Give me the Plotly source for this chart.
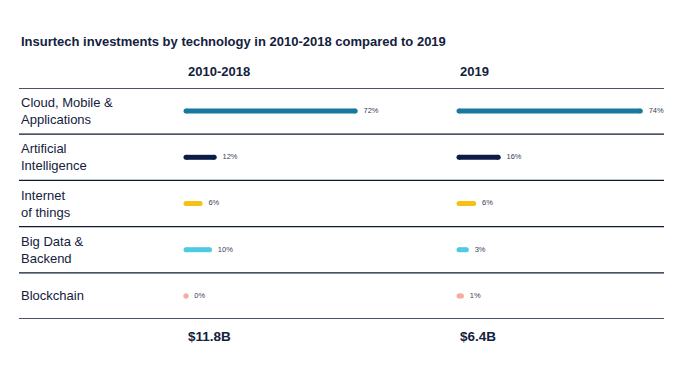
import plotly.graph_objects as go

W, H = 689, 377
OFF = 8  # default page body margin

categories = ["Cloud, Mobile &<br>Applications", "Artificial<br>Intelligence",
              "Internet<br>of things", "Big Data &<br>Backend", "Blockchain"]
values_2010_2018 = [72, 12, 6, 10, 0]
values_2019 = [74, 16, 6, 3, 1]
colors = ["#17799f", "#0c1b47", "#f5c115", "#4ecbe0", "#f3ada0"]
period_labels = ["2010-2018", "2019"]
totals = ["$11.8B", "$6.4B"]
title = "Insurtech investments by technology in 2010-2018 compared to 2019"

FONT = "Liberation Sans, Arial, sans-serif"
NAVY = "#14213d"

def px(x):
    return (x - OFF) / W

def py(y):
    return 1 - (y - OFF) / H

fig = go.Figure()

rows = list(range(len(categories)))

for panel, vals in enumerate([values_2010_2018, values_2019]):
    xa = "x" if panel == 0 else "x2"
    for i, (v, c) in enumerate(zip(vals, colors)):
        fig.add_trace(go.Scatter(
            x=[0, v], y=[i, i], mode="lines+markers",
            line=dict(color=c, width=5),
            marker=dict(color=c, size=5),
            xaxis=xa, yaxis="y", showlegend=False, hoverinfo="skip",
            cliponaxis=False,
        ))
    fig.add_trace(go.Scatter(
        x=vals, y=rows, mode="text",
        text=[f"{v}%" for v in vals], textposition="middle right",
        textfont=dict(size=7.5, color="#3a4257", family=FONT),
        xaxis=xa, yaxis="y", showlegend=False, hoverinfo="skip",
        cliponaxis=False,
    ))

# gap between bar end and label, applied to the text traces
for tr in fig.data:
    if tr.mode == "text":
        tr.text = ["\u00a0\u00a0\u00a0\u00a0" + t for t in tr.text]

top_px, bot_px = 88, 319
fig.update_layout(
    width=W, height=H,
    margin=dict(l=0, r=0, t=0, b=0),
    paper_bgcolor="white", plot_bgcolor="white",
    font=dict(family=FONT, color=NAVY),
    xaxis=dict(domain=[px(186), px(421)], range=[0, 100], visible=False, fixedrange=True),
    xaxis2=dict(domain=[px(459), px(655)], range=[0, 80], visible=False, fixedrange=True,
                anchor="y"),
    yaxis=dict(domain=[py(bot_px), py(top_px)], range=[4.5, -0.5], visible=False, fixedrange=True),
)

# separator lines
for k in range(len(categories) + 1):
    fig.add_shape(type="line", xref="paper", yref="y",
                  x0=px(19), x1=px(664), y0=k - 0.5, y1=k - 0.5,
                  line=dict(color="#0c1a33", width=1.3))

# category labels
for i, cat in enumerate(categories):
    fig.add_annotation(x=px(19), y=i, xref="paper", yref="y",
                       text=cat, showarrow=False, xanchor="left", yanchor="middle",
                       align="left", font=dict(size=13, color=NAVY, family=FONT))

# title
fig.add_annotation(x=px(19), y=py(42), xref="paper", yref="paper", text=f"<b>{title}</b>",
                   showarrow=False, xanchor="left", yanchor="middle",
                   font=dict(size=13, color=NAVY, family=FONT))

# headers and totals
for lab, tot, x0 in zip(period_labels, totals, [186, 458]):
    fig.add_annotation(x=px(x0), y=py(71), xref="paper", yref="paper", text=f"<b>{lab}</b>",
                       showarrow=False, xanchor="left", yanchor="middle",
                       font=dict(size=13, color=NAVY, family=FONT))
    fig.add_annotation(x=px(x0), y=py(336), xref="paper", yref="paper", text=f"<b>{tot}</b>",
                       showarrow=False, xanchor="left", yanchor="middle",
                       font=dict(size=13.5, color=NAVY, family=FONT))

fig.write_html("out.html")
